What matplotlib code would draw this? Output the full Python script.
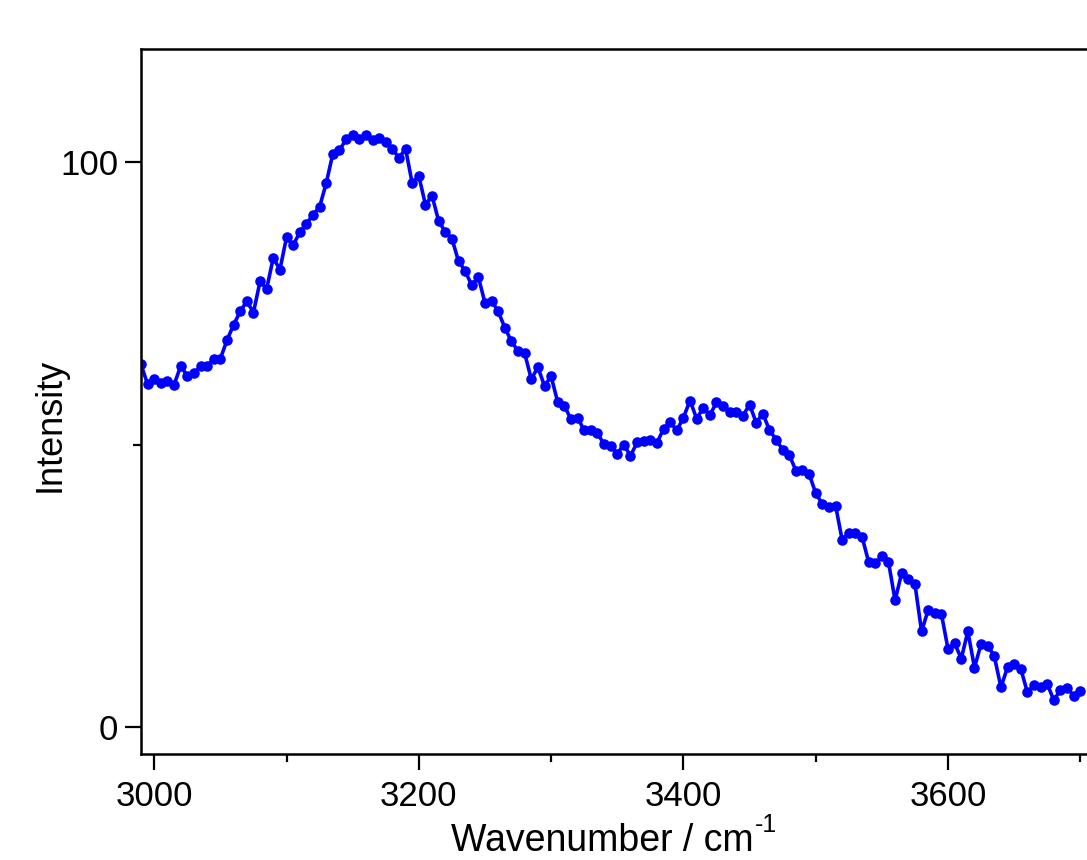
import numpy as np
import matplotlib
matplotlib.use("Agg")
import matplotlib.pyplot as plt
from matplotlib.ticker import MultipleLocator

plt.rcParams['font.family'] = ['Liberation Sans', 'DejaVu Sans']

# spectrum sampled every 5 cm-1 from 2990 to 3700
wn_start = 2990
wn_step = 5
intensity = [
    64.2, 60.7, 61.6, 60.9, 61.3, 60.6, 63.9, 62.2, 62.6, 63.9,
    63.9, 65.2, 65.2, 68.5, 71.2, 73.6, 75.4, 73.4, 78.9, 77.6,
    83.1, 81.0, 86.7, 85.3, 87.6, 89.1, 90.7, 92.1, 96.3, 101.5,
    102.1, 104.1, 104.9, 104.1, 104.9, 103.9, 104.3, 103.6, 102.4, 100.8,
    102.4, 96.3, 97.6, 92.5, 94.1, 89.6, 87.7, 86.5, 82.5, 80.8,
    78.2, 79.7, 75.1, 75.5, 73.6, 70.7, 68.3, 66.6, 66.2, 61.6,
    63.7, 60.4, 62.1, 57.5, 56.9, 54.5, 54.8, 52.5, 52.6, 52.0,
    50.1, 49.8, 48.4, 50.0, 48.0, 50.4, 50.6, 50.9, 50.3, 52.8,
    54.0, 52.5, 54.8, 57.8, 54.6, 56.5, 55.2, 57.5, 56.9, 55.7,
    55.8, 55.1, 57.1, 53.9, 55.5, 52.6, 50.9, 49.1, 48.2, 45.4,
    45.5, 44.8, 41.4, 39.5, 39.0, 39.2, 33.1, 34.4, 34.4, 33.7,
    29.2, 29.0, 30.2, 29.2, 22.4, 27.3, 26.2, 25.3, 16.9, 20.7,
    20.1, 20.0, 13.8, 14.8, 12.1, 16.9, 10.5, 14.7, 14.4, 12.5,
    7.0, 10.6, 11.2, 10.3, 6.1, 7.4, 7.1, 7.6, 4.7, 6.6,
    6.9, 5.5, 6.3,
]
wavenumber = wn_start + wn_step * np.arange(len(intensity))

fig = plt.figure(figsize=(10.87, 8.6), dpi=100)
# right edge of the axes sits past the figure edge, like the original crop
ax = fig.add_axes([0.1297, 0.1233, 0.8885, 0.8192])

ax.plot(wavenumber, intensity, color='#0000ff', lw=2.6, marker='o',
        markersize=7.6, markeredgewidth=0)

ax.set_xlim(2990, 3720)
ax.set_ylim(-4.8, 120)

ax.xaxis.set_major_locator(MultipleLocator(200))
ax.xaxis.set_minor_locator(MultipleLocator(100))
ax.yaxis.set_major_locator(MultipleLocator(100))
ax.yaxis.set_minor_locator(MultipleLocator(50))

ax.tick_params(which='both', direction='out', width=1.6, labelsize=25, pad=5)
ax.tick_params(which='major', length=11.5)
ax.tick_params(which='minor', length=5.8)
ax.tick_params(axis='x', pad=7)

for side in ['left', 'bottom', 'top']:
    ax.spines[side].set_linewidth(1.8)
ax.spines['right'].set_visible(False)

ax.set_ylabel('Intensity', fontsize=26)
ax.yaxis.set_label_coords(-0.076, 0.467)

# x label with a hyphen superscript, placed right after the main text
xl = fig.text(451 / 1087, (860 - 851) / 860, 'Wavenumber / cm', ha='left',
              va='baseline', fontsize=27)
fig.canvas.draw()
bb = xl.get_window_extent()
fig.text((bb.x1 + 1) / 1087, (860 - 832) / 860, '-1', ha='left',
         va='baseline', fontsize=18)

fig.savefig('out.png', dpi=100)
